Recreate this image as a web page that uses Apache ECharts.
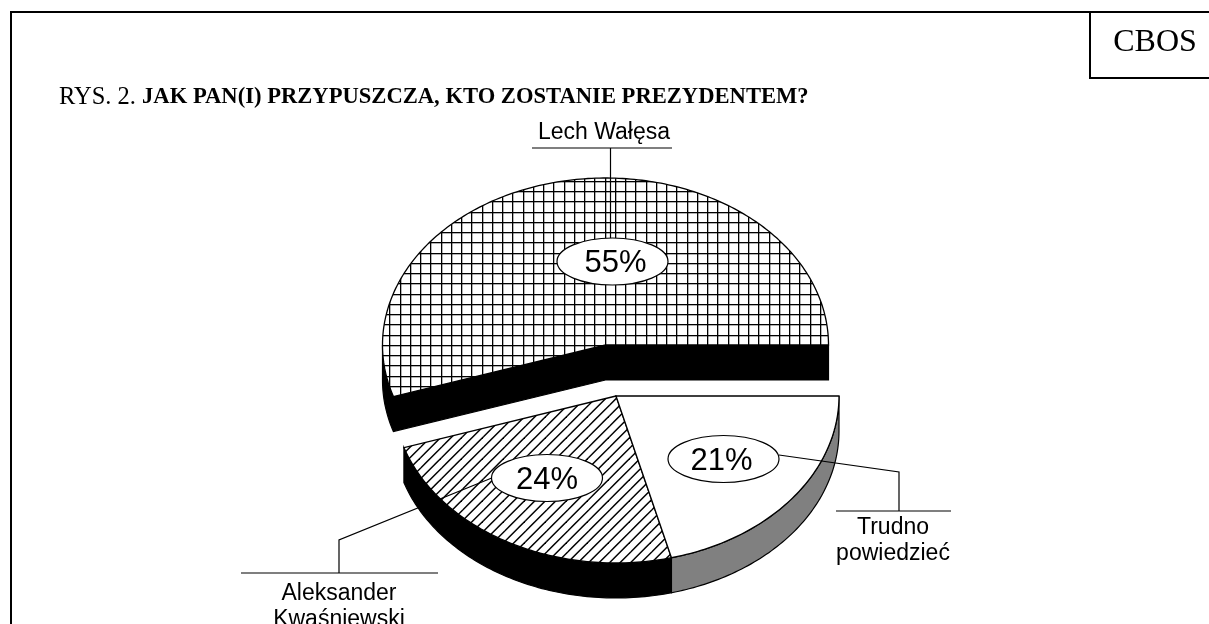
<!DOCTYPE html>
<html>
<head>
<meta charset="utf-8">
<title>CBOS</title>
<style>
html,body{margin:0;padding:0;background:#fff;}
#container{width:1209px;height:624px;}
</style>
<script src="https://cdn.jsdelivr.net/npm/echarts@6/dist/echarts.min.js"></script>
</head>
<body>
<div id="container"></div>
<script>
var categories = ['Lech Wałęsa', 'Aleksander\nKwaśniewski', 'Trudno\npowiedzieć'];
var values = [55, 24, 21];
var titlePrefix = 'RYS. 2. ';
var titleBold = 'JAK PAN(I) PRZYPUSZCZA, KTO ZOSTANIE PREZYDENTEM?';
var sourceName = 'CBOS';

// kazdy wycinek ma wlasny srodek, bo jest wysuniety
var centers = [[605.5, 345], [616, 396], [616, 396]];
var rx = 223, ry = 167, depth = 35;
var sideColors = ['#000', '#000', '#808080'];

function crossPattern() {
    var c = document.createElement('canvas');
    c.width = 41; c.height = 41;
    var g = c.getContext('2d');
    g.fillStyle = '#fff';
    g.fillRect(0, 0, 41, 41);
    g.fillStyle = 'rgba(0,0,0,0.3)';
    [1, 11, 21, 32].forEach(function (x) { g.fillRect(x, 0, 1, 41); });
    [8, 18, 28, 38].forEach(function (y) { g.fillRect(0, y, 41, 1); });
    g.fillStyle = '#000';
    [0, 10, 20, 31].forEach(function (x) { g.fillRect(x, 0, 1, 41); });
    [7, 17, 27, 37].forEach(function (y) { g.fillRect(0, y, 41, 1); });
    return {image: c, repeat: 'repeat'};
}

function hatchPattern() {
    var c = document.createElement('canvas');
    c.width = 21; c.height = 21;
    var g = c.getContext('2d');
    g.fillStyle = '#fff';
    g.fillRect(0, 0, 21, 21);
    g.strokeStyle = '#000';
    g.lineWidth = 1.5;
    for (var k = -4; k < 8; k++) {
        var s = 6.7 + k * 10.5;
        g.beginPath();
        g.moveTo(s + 2, -2);
        g.lineTo(s - 30, 30);
        g.stroke();
    }
    return {image: c, repeat: 'repeat'};
}

var fills = [crossPattern(), hatchPattern(), '#fff'];

function pt(c, deg, dy) {
    var a = deg * Math.PI / 180;
    return [c[0] + rx * Math.cos(a), c[1] - ry * Math.sin(a) + (dy || 0)];
}

function arc(c, from, to, dy) {
    var pts = [];
    var n = Math.ceil(Math.abs(to - from));
    for (var i = 0; i <= n; i++) {
        pts.push(pt(c, from + (to - from) * i / n, dy));
    }
    return pts;
}

function renderSlice(params, api) {
    var idx = params.dataIndex;
    var total = values.reduce(function (a, b) { return a + b; }, 0);
    var before = 0;
    for (var i = 0; i < idx; i++) before += values[i];
    var start = before / total * 360;
    var end = (before + api.value(0)) / total * 360;
    var c = centers[idx];
    var pts;

    // bok wycinka, widoczny tylko z przodu (180-360)
    if (start < 180) {
        // gorny wycinek: widac tez sciany przekroju
        pts = arc(c, 180, end, 0)
            .concat([c, pt(c, start, 0), pt(c, start, depth), [c[0], c[1] + depth]])
            .concat(arc(c, end, 180, depth));
    } else {
        pts = arc(c, start, end, 0).concat(arc(c, end, start, depth));
    }

    return {type: 'group', children: [{
        type: 'polygon', shape: {points: pts},
        style: {fill: sideColors[idx], stroke: '#000', lineWidth: 1.2}
    }, {
        type: 'polygon', shape: {points: [c].concat(arc(c, start, end, 0))},
        style: {fill: fills[idx], stroke: '#000', lineWidth: 1.3}
    }]};
}

var sansFont = '"Liberation Sans", Arial, sans-serif';
var serifFont = '"Liberation Serif", "Times New Roman", serif';

function line(points, w) {
    return {type: 'polyline', z: 10, shape: {points: points},
        style: {stroke: '#000', lineWidth: w || 1.2, fill: null}};
}

function bubble(cx, cy, i, dx) {
    return [{
        type: 'ellipse', z: 11, shape: {cx: cx, cy: cy, rx: 55.5, ry: 23.5},
        style: {fill: '#fff', stroke: '#000', lineWidth: 1.2}
    }, {
        type: 'text', z: 12, x: cx + dx, y: cy + 2,
        style: {text: values[i] + '%', fill: '#000', font: '31px ' + sansFont,
            align: 'center', verticalAlign: 'middle'}
    }];
}

function caption(cx, top, i) {
    return {
        type: 'text', z: 12, x: cx, y: top,
        style: {text: categories[i], fill: '#000', font: '23px ' + sansFont,
            lineHeight: 26, align: 'center', verticalAlign: 'top'}
    };
}

var dom = document.getElementById('container');
var myChart = echarts.init(dom);

var option = {
    backgroundColor: '#fff',
    animation: false,
    title: {
        text: '{a|' + titlePrefix + '}{b|' + titleBold + '}',
        left: 59, top: 85, padding: 0,
        textStyle: {rich: {
            a: {fontFamily: serifFont, fontSize: 24.5, fontWeight: 'normal', color: '#000'},
            b: {fontFamily: serifFont, fontSize: 22.6, fontWeight: 'bold', color: '#000'}
        }}
    },
    xAxis: {show: false},
    yAxis: {show: false},
    series: [{
        type: 'custom',
        coordinateSystem: 'none',
        data: values.map(function (v) { return [v]; }),
        renderItem: renderSlice,
        silent: true
    }],
    graphic: {elements: [
        line([[10, 12], [1209, 12]], 2),
        line([[11, 12], [11, 624]], 2),
        line([[1090, 12], [1090, 78], [1209, 78]], 2),
        {type: 'text', z: 12, x: 1155, y: 43,
            style: {text: sourceName, fill: '#000', font: '32px ' + serifFont,
                align: 'center', verticalAlign: 'middle'}},

        line([[532, 148], [672, 148]]),
        line([[610.5, 148], [610.5, 238]]),
        line([[493, 477.5], [339, 540], [339, 573]]),
        line([[241, 573], [438, 573]]),
        line([[779, 455], [899, 472], [899, 511]]),
        line([[836, 511], [951, 511]]),

        caption(604, 120, 0),
        caption(339, 581, 1),
        caption(893, 515, 2)
    ].concat(bubble(612.5, 261.5, 0, 3), bubble(547, 478, 1, 0), bubble(723.5, 459, 2, -2))}
};

if (option && typeof option === 'object') {
    myChart.setOption(option, true);
}
</script>
</body>
</html>
